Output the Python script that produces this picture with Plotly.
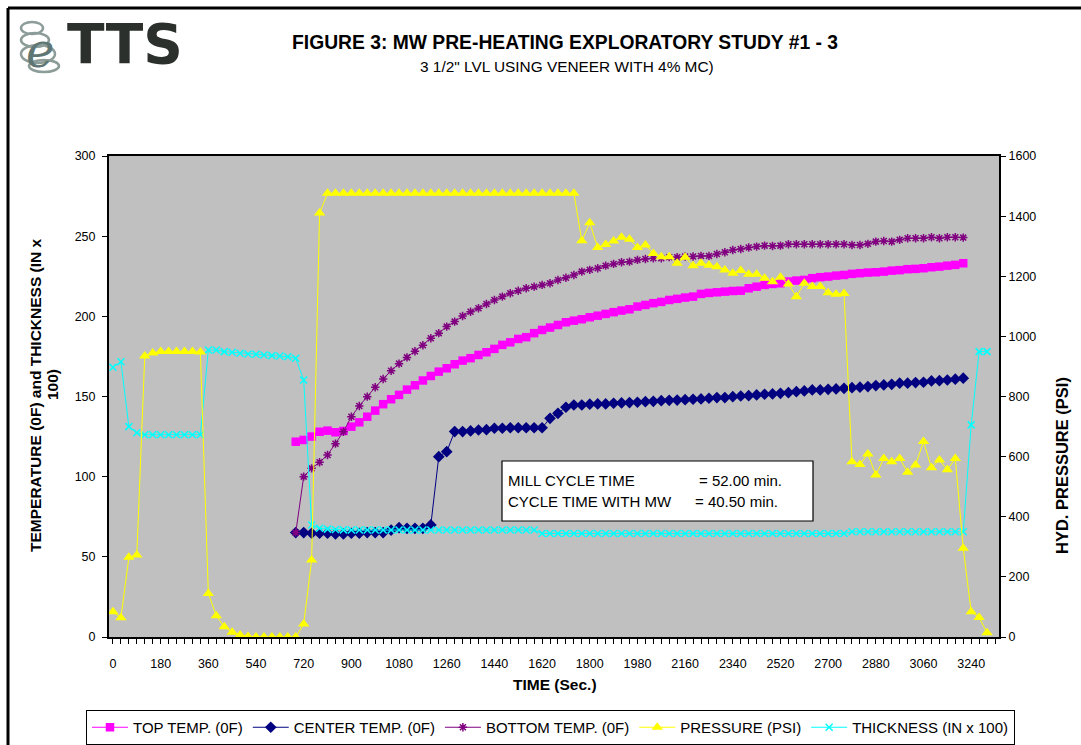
import plotly.graph_objects as go

# ---------------- data ----------------
t_temp = list(range(690, 3211, 30))          # temperature sampling times (s)
t_all = list(range(0, 3301, 30))             # pressure / thickness sampling times (s)

top_temp = [121.8, 122.9, 125.0, 128.0, 128.7, 127.7, 128.5, 131.2, 133.9, 137.4,
            141.2, 145.2, 148.3, 151.0, 154.3, 157.0, 160.0, 162.8, 165.5, 167.6,
            170.1, 172.4, 173.9, 175.9, 177.6, 179.7, 182.2, 183.8, 185.9, 187.0,
            189.5, 191.5, 193.0, 194.6, 196.3, 197.3, 198.2, 199.4, 200.4, 201.5,
            202.6, 203.6, 204.4, 206.1, 207.1, 208.2, 209.0, 210.2, 210.9, 211.7,
            212.3, 214.0, 214.6, 215.0, 215.4, 215.8, 216.0, 217.5, 218.5, 219.6,
            220.2, 220.6, 221.7, 222.3, 222.7, 223.8, 224.4, 224.8, 225.4, 225.8,
            226.5, 226.9, 227.3, 227.5, 227.9, 228.5, 228.8, 229.4, 229.6, 230.0,
            230.6, 231.0, 231.6, 232.1, 233.1]

center_temp = [65.1, 65.1, 64.7, 64.7, 64.7, 64.3, 64.3, 64.7, 64.7, 65.1,
               65.1, 65.1, 66.7, 68.2, 67.8, 67.8, 67.8, 69.9, 112.5, 115.6,
               128.1, 128.1, 128.5, 129.1, 129.3, 130.2, 130.2, 130.5, 130.5, 130.5,
               130.5, 130.5, 136.4, 139.5, 143.3, 144.7, 144.7, 145.2, 145.4, 145.4,
               145.8, 146.0, 146.2, 146.4, 146.8, 147.0, 147.4, 147.6, 147.8, 148.0,
               148.3, 148.5, 148.9, 149.3, 149.3, 149.9, 150.3, 150.5, 151.0, 151.4,
               151.6, 152.0, 152.4, 153.0, 153.5, 154.1, 154.1, 154.5, 154.7, 155.1,
               155.5, 155.8, 156.2, 156.8, 157.2, 157.6, 158.3, 158.3, 158.7, 158.9,
               159.7, 159.9, 160.3, 160.8, 161.4]

bottom_temp = [65.1, 100.0, 105.2, 109.0, 113.5, 120.6, 128.0, 137.4, 144.1, 149.9,
               155.8, 160.9, 166.1, 170.5, 174.4, 178.2, 182.0, 186.3, 189.5, 193.6,
               196.7, 200.2, 202.9, 205.0, 207.7, 210.2, 212.3, 214.4, 216.0, 217.5,
               218.5, 219.6, 220.6, 222.7, 224.1, 225.8, 227.9, 229.0, 230.0, 231.6,
               232.7, 233.7, 234.1, 235.2, 235.8, 236.2, 236.2, 236.9, 236.9, 237.3,
               237.3, 237.7, 237.7, 238.9, 240.0, 241.4, 242.0, 242.9, 243.5, 244.1,
               243.9, 244.1, 245.0, 245.0, 245.0, 245.0, 245.0, 245.0, 245.0, 245.0,
               244.5, 244.5, 245.2, 246.6, 247.0, 246.6, 247.7, 248.7, 248.7, 248.7,
               249.3, 248.7, 249.3, 249.3, 249.1]

pressure = [84, 64, 265, 273, 935, 945, 950, 950, 950, 950,
            950, 948, 145, 71, 34, 16, 7, 2, 0, 0,
            0, 0, 0, 0, 43, 256, 1410, 1476, 1476, 1476,
            1476, 1476, 1476, 1476, 1476, 1476, 1476, 1476, 1476, 1476,
            1476, 1476, 1476, 1476, 1476, 1476, 1476, 1476, 1476, 1476,
            1476, 1476, 1476, 1476, 1476, 1476, 1476, 1476, 1476, 1318,
            1378, 1296, 1306, 1317, 1330, 1323, 1296, 1304, 1276, 1265,
            1265, 1243, 1263, 1235, 1243, 1237, 1232, 1221, 1210, 1219,
            1207, 1207, 1193, 1182, 1197, 1174, 1132, 1177, 1166, 1166,
            1145, 1140, 1143, 583, 574, 609, 539, 594, 583, 594,
            548, 572, 650, 563, 589, 556, 594, 295, 84, 65,
            14]

thickness = [168.2, 171.7, 131.2, 127.4, 126.2, 126.2, 126.2, 126.2, 126.2, 126.2,
             126.2, 126.2, 179.0, 179.0, 178.0, 177.6, 177.0, 176.5, 176.3, 175.9,
             175.5, 175.3, 174.8, 173.8, 160.3, 69.9, 67.8, 67.3, 67.0, 66.8,
             66.7, 66.7, 66.7, 66.7, 66.7, 66.7, 66.7, 66.7, 66.7, 66.7,
             66.7, 66.7, 66.7, 66.7, 66.7, 66.7, 66.7, 66.7, 66.7, 66.7,
             66.7, 66.7, 66.7, 66.7, 64.6, 64.5, 64.5, 64.5, 64.5, 64.5,
             64.5, 64.5, 64.5, 64.5, 64.5, 64.5, 64.5, 64.5, 64.5, 64.5,
             64.5, 64.5, 64.5, 64.5, 64.5, 64.5, 64.5, 64.5, 64.5, 64.5,
             64.5, 64.5, 64.5, 64.5, 64.5, 64.5, 64.5, 64.5, 64.5, 64.5,
             64.5, 64.5, 64.5, 65.6, 65.6, 65.6, 65.6, 65.6, 65.6, 65.6,
             65.6, 65.6, 65.6, 65.6, 65.6, 65.6, 65.6, 65.6, 132.3, 178.0,
             178.0]

x_tick_vals = list(range(0, 3331, 30))
x_tick_labels = [str(v) if v % 180 == 0 else "" for v in x_tick_vals]

series_names = ["TOP TEMP. (0F)", "CENTER TEMP. (0F)", "BOTTOM TEMP. (0F)",
                "PRESSURE (PSI)", "THICKNESS (IN x 100)"]

# ---------------- layout helpers ----------------
W, H = 1081, 745
ML, MR, MT, MB = 109, 82, 156, 108
PW, PH = W - ML - MR, H - MT - MB

def fx(px):
    return (px - ML) / PW

def fy(py):
    return (H - MB - py) / PH

FONT = "Liberation Sans, Arial, sans-serif"

fig = go.Figure()

fig.add_trace(go.Scatter(x=t_temp, y=top_temp, name=series_names[0], mode="lines+markers",
                         line=dict(color="#FF00FF", width=1),
                         marker=dict(symbol="square", size=8.5, color="#FF00FF")))
fig.add_trace(go.Scatter(x=t_temp, y=center_temp, name=series_names[1], mode="lines+markers",
                         line=dict(color="#000080", width=1),
                         marker=dict(symbol="diamond", size=9, color="#000080")))
fig.add_trace(go.Scatter(x=t_temp, y=bottom_temp, name=series_names[2], mode="lines+markers",
                         line=dict(color="#800080", width=1),
                         marker=dict(symbol="asterisk-open", size=7,
                                     line=dict(color="#800080", width=1.5))))
fig.add_trace(go.Scatter(x=t_all, y=pressure, name=series_names[3], mode="lines+markers",
                         yaxis="y2",
                         line=dict(color="#FFFF00", width=1),
                         marker=dict(symbol="triangle-up", size=10, color="#FFFF00")))
fig.add_trace(go.Scatter(x=t_all, y=thickness, name=series_names[4], mode="lines+markers",
                         line=dict(color="#00FFFF", width=1),
                         marker=dict(symbol="x-thin-open", size=7,
                                     line=dict(color="#00FFFF", width=1.5))))

fig.update_layout(
    width=W, height=H, autosize=False,
    margin=dict(l=ML, r=MR, t=MT, b=MB, pad=0, autoexpand=False),
    paper_bgcolor="white", plot_bgcolor="#C0C0C0",
    font=dict(family=FONT, size=12, color="black"),
    showlegend=True,
    legend=dict(orientation="h", x=fx(86), y=fy(710), xanchor="left", yanchor="top",
                bgcolor="white", bordercolor="black", borderwidth=1,
                font=dict(family=FONT, size=15, color="black"),
                itemwidth=36, tracegroupgap=0, traceorder="normal"),
    xaxis=dict(range=[-15, 3345], tickmode="array", tickvals=x_tick_vals,
               ticktext=x_tick_labels, ticks="outside", ticklen=5, tickwidth=1,
               tickcolor="black", showgrid=False, zeroline=False,
               showline=True, linecolor="black", linewidth=2, mirror=True,
               ticklabelstandoff=9,
               tickfont=dict(family=FONT, size=12.5, color="black")),
    yaxis=dict(range=[0, 300], tickmode="linear", tick0=0, dtick=50,
               ticks="outside", ticklen=5, tickwidth=1, tickcolor="black",
               showgrid=False, zeroline=False, showline=True, linecolor="black",
               linewidth=2, ticklabelstandoff=4,
               tickfont=dict(family=FONT, size=12.5, color="black")),
    yaxis2=dict(range=[0, 1600], tickmode="linear", tick0=0, dtick=200,
                overlaying="y", side="right",
                ticks="outside", ticklen=5, tickwidth=1, tickcolor="black",
                showgrid=False, zeroline=False, showline=True, linecolor="black",
                linewidth=2, tickfont=dict(family=FONT, size=12.5, color="black")),
)

ann = []

def add_text(text, px, py, size, bold=False, angle=0, xanchor="center", color="black",
             family=FONT, italic=False):
    t = "<b>%s</b>" % text if bold else text
    if italic:
        t = "<i>%s</i>" % t
    ann.append(dict(text=t, x=fx(px), y=fy(py), xref="paper", yref="paper",
                    showarrow=False, xanchor=xanchor, yanchor="middle",
                    textangle=angle, font=dict(family=family, size=size, color=color)))

# titles
add_text("FIGURE 3: MW PRE-HEATING EXPLORATORY STUDY #1 - 3", 565, 42, 19.3, bold=True)
add_text("3 1/2\" LVL USING VENEER WITH 4% MC)", 567, 66, 15.4)
# axis titles
add_text("TIME (Sec.)", 555, 684, 15.5, bold=True)
add_text("TEMPERATURE (0F) and THICKNESS (IN x", 35, 395, 15.5, bold=True, angle=-90)
add_text("100)", 52, 385, 15.5, bold=True, angle=-90)
add_text("HYD. PRESSURE (PSI)", 1062, 466, 16.5, bold=True, angle=-90)
# info box text
add_text("MILL CYCLE TIME", 506, 480, 15, xanchor="left")
add_text("= 52.00 min.", 697, 480, 15, xanchor="left")
add_text("CYCLE TIME WITH MW", 506, 501, 15, xanchor="left")
add_text("= 40.50 min.", 693, 501, 15, xanchor="left")
# logo
add_text("TTS", 125, 44, 55, bold=True, color="#2B302D", family="DejaVu Sans, sans-serif")
add_text("e", 40, 50, 48, color="#5F7774", family="DejaVu Serif, serif", italic=True)

fig.update_layout(annotations=ann)

shapes = [
    # info box
    dict(type="rect", xref="paper", yref="paper", x0=fx(502), x1=fx(813),
         y0=fy(521), y1=fy(461), fillcolor="white", line=dict(color="black", width=1.2),
         layer="above"),
    # outer frame (left and top)
    dict(type="line", xref="paper", yref="paper", x0=fx(8), x1=fx(8), y0=fy(8), y1=fy(745),
         line=dict(color="black", width=3)),
    dict(type="line", xref="paper", yref="paper", x0=fx(8), x1=fx(1081), y0=fy(8), y1=fy(8),
         line=dict(color="black", width=3)),
]
# coil rings of logo
for (cx, cy, rx, ry) in [(32, 28, 11, 6), (35, 40, 14, 7), (38, 54, 17, 9), (44, 66, 15, 6)]:
    shapes.append(dict(type="circle", xref="paper", yref="paper",
                       x0=fx(cx - rx), x1=fx(cx + rx), y0=fy(cy + ry), y1=fy(cy - ry),
                       line=dict(color="#8C9C98", width=2.5)))
fig.update_layout(shapes=shapes)

fig.write_html("out.html", config={"displayModeBar": False},
               post_script="document.body.style.margin='0';document.body.style.padding='0';")
